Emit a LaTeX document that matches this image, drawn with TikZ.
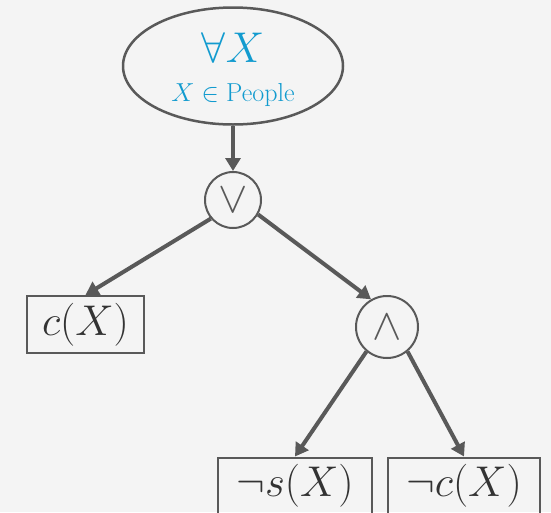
\RequirePackage{fix-cm}
\documentclass[tikz,border=0pt]{standalone}
\usepackage{xcolor}
\usetikzlibrary{arrows.meta,shapes.geometric}
\definecolor{linegray}{HTML}{595959}
\definecolor{quantblue}{HTML}{129BCF}
\definecolor{bggray}{HTML}{F4F4F4}

\begin{document}
\begin{tikzpicture}[x=1pt,y=-1pt,
  opnode/.style={circle,draw=linegray,line width=2pt,minimum size=#1,inner sep=0pt,text=linegray,font=\fontsize{44}{48}\selectfont},
  litbox/.style={rectangle,draw=linegray,line width=2pt,minimum width=#1,minimum height=57pt,inner sep=0pt,text=black!80,font=\fontsize{43}{48}\selectfont},
  linkarrow/.style={linegray,line width=4pt,-{Triangle[length=13pt,width=15pt]}}]
\path[use as bounding box,fill=bggray] (0,0) rectangle (551,512);
\node[ellipse,draw=linegray,line width=2.5pt,minimum width=220pt,minimum height=117pt] (quant) at (233,66) {};
\node[anchor=base,text=quantblue,font=\fontsize{43}{48}\selectfont] (qvar) at (233,62) {$\forall X$};
\node[anchor=base,text=quantblue,font=\fontsize{26}{30}\selectfont] (qdom) at (233,101) {$X\in{}$People};
\node[opnode=56pt] (or) at (233,200) {$\vee$};
\node[opnode=62pt] (and) at (387,327) {$\wedge$};
\node[litbox=117pt] (cX) at (85.5,324.5) {$c(X)$};
\node[litbox=154pt] (nsX) at (295,486) {$\neg s(X)$};
\node[litbox=152pt] (ncX) at (464,486) {$\neg c(X)$};
\draw[linkarrow] (quant) -- (or);
\draw[linkarrow] (or.-140) -- (cX.north);
\draw[linkarrow] (or.-30) -- (and.120);
\draw[linkarrow] (and.-130) -- (nsX.north);
\draw[linkarrow] (and.-50) -- (ncX.north);
\end{tikzpicture}
\end{document}
